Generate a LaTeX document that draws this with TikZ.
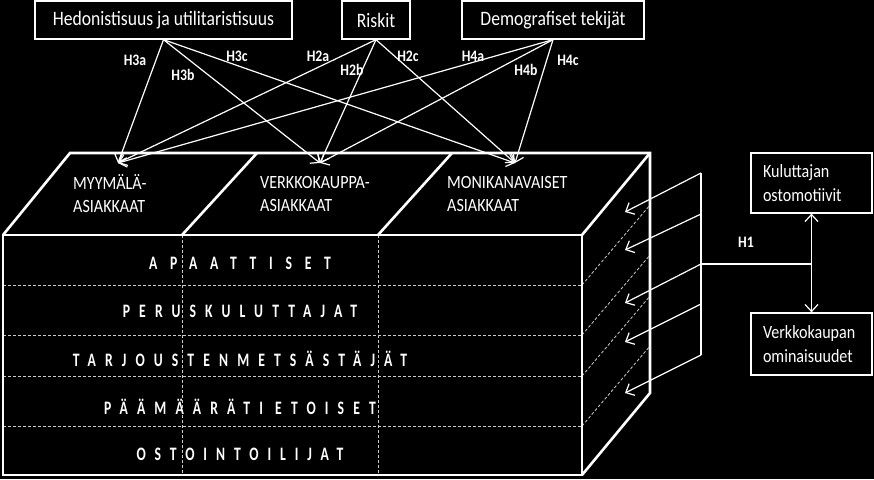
\documentclass[tikz,border=0pt]{standalone}
\usepackage{fontspec}
\setmainfont{Carlito}[FakeStretch=0.86]
\newfontfamily\rowfont{Carlito}[FakeStretch=0.72]
\usetikzlibrary{arrows.meta}
\tikzset{
	factor/.style={draw=white,line width=1.3pt,fill=black,text=white,inner sep=0pt,minimum height=38pt,font=\fontsize{20.5}{24}\selectfont},
	motive/.style={draw=white,line width=1.3pt,fill=black,text=white,inner xsep=12pt,inner ysep=0pt,text width=97pt,align=left,font=\fontsize{18.7}{23.5}\selectfont},
	seg/.style={text=white,align=left,anchor=west,inner sep=0pt,font=\fontsize{18.7}{23}\selectfont},
	group/.style={text=white,inner sep=0pt,font={\rowfont\bfseries\fontsize{19}{22}\selectfont}},
	hyp/.style={text=white,inner sep=0pt,font={\bfseries\fontsize{16}{18}\selectfont}},
	link/.style={white,line width=1.2pt,->},
	plain/.style={white,line width=1.2pt},
	cube/.style={white,line width=2.6pt,line join=miter},
	grid/.style={white!80!black,line width=0.8pt,dash pattern=on 3pt off 2pt},
	>={Straight Barb[length=7pt,width=13pt]},
	}

\begin{document}
\begin{tikzpicture}[x=1pt,y=-1pt]
\fill[black] (0,0) rectangle (874,479);
\useasboundingbox (0,0) rectangle (874,479);

% dashed grid of the block
\foreach \y in {285,335,376,426} {
  \draw[grid] (3,\y) -- (582,\y);
  \draw[grid] (582,\y) -- (650,{\y-80});
}
\foreach \x in {182,378}
  \draw[grid] (\x,235) -- (\x,475);

% the block
\draw[cube] (3,235) rectangle (582,475);
\draw[cube] (3,235) -- (70,153) -- (650,153) -- (650,393) -- (582,475);
\draw[cube] (582,235) -- (650,153);
\draw[cube] (182,235) -- (257,153) (378,235) -- (452,153);

\node (myy) at (73,194) [seg] {MYYMÄLÄ-\\ASIAKKAAT};
\node (ver) at (260,194) [seg] {VERKKOKAUPPA-\\ASIAKKAAT};
\node (mon) at (447,194) [seg] {MONIKANAVAISET\\ASIAKKAAT};

\node (apa) at (240,263) [group] {\addfontfeature{LetterSpace=67}APAATTISET};
\node (per) at (240,311) [group] {\addfontfeature{LetterSpace=48}PERUSKULUTTAJAT};
\node (tar) at (240,359) [group] {\addfontfeature{LetterSpace=48}TARJOUSTENMETSÄSTÄJÄT};
\node (paa) at (240,407) [group] {\addfontfeature{LetterSpace=48}PÄÄMÄÄRÄTI ETOISET};
\node (ost) at (240,454) [group] {\addfontfeature{LetterSpace=47}OSTOINTOILIJAT};

% factors and hypotheses
\node (hed) at (163.5,20) [factor,minimum width=257pt] {Hedonistisuus ja utilitaristisuus};
\node (risk) at (376,20) [factor,minimum width=68pt] {Riskit};
\node (demo) at (553,20) [factor,minimum width=182pt] {Demografiset tekijät};

\coordinate (tmyy) at (118,163);
\coordinate (tver) at (320,163);
\coordinate (tmon) at (515,163);
\foreach \s in {hed,risk,demo}
  \foreach \t in {tmyy,tver,tmon}
    \draw[link] (\s.south) -- (\t);

\node (h3a) at (135,60) [hyp] {H3a};
\node (h3b) at (183,75) [hyp] {H3b};
\node (h3c) at (237,56) [hyp] {H3c};
\node (h2a) at (318,56) [hyp] {H2a};
\node (h2b) at (352,70) [hyp] {H2b};
\node (h2c) at (408,56) [hyp] {H2c};
\node (h4a) at (473,56) [hyp] {H4a};
\node (h4b) at (526,70) [hyp] {H4b};
\node (h4c) at (568,60) [hyp] {H4c};

% purchase motives
\node (kul) at (811.5,183) [motive,minimum height=60pt] {Kuluttajan\\ostomotiivit};
\node (omi) at (811.5,344) [motive,minimum height=62pt] {Verkkokaupan\\ominaisuudet};

\foreach \i/\a/\b in {1/173/212,2/214/250,3/264/303,4/304/342,5/355/393} {
  \coordinate (s\i) at (701,\a);
  \coordinate (e\i) at (625,\b);
  \draw[link] (s\i) -- (e\i);
}
\draw[plain] (s1) -- (s5);
\coordinate (join) at (kul.south |- s3);
\draw[plain] (s3) -- (join);
\draw[link,<->] (kul.south) -- (omi.north);
\node (h1) at (746,242) [hyp] {H1};
\end{tikzpicture}
\end{document}
